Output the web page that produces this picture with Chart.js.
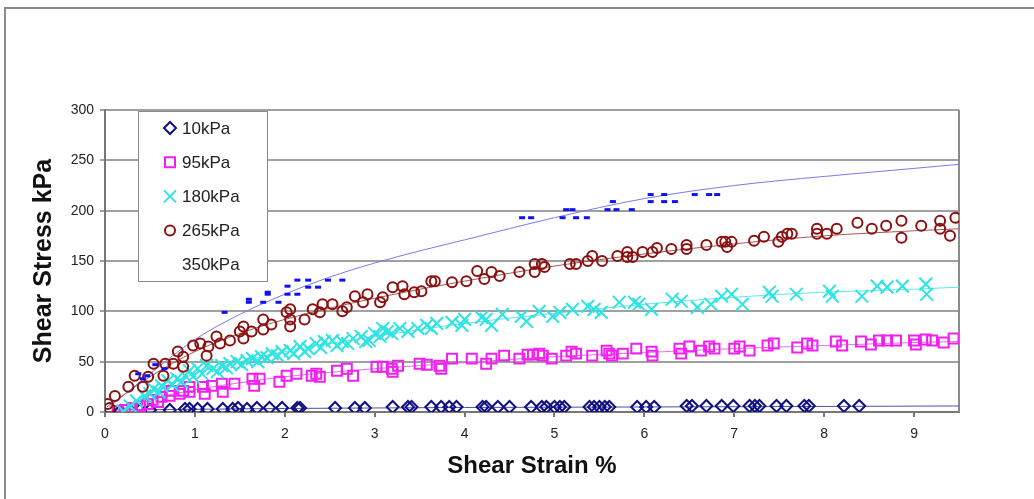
<!DOCTYPE html>
<html>
<head>
<meta charset="utf-8">
<script src="https://cdn.jsdelivr.net/npm/chart.js@4/dist/chart.umd.min.js"></script>
<style>
  body { margin: 0; background: #fff; }
  #wrap { width: 1034px; height: 499px; }
</style>
</head>
<body>
<div id="wrap"><canvas id="shearChart" width="1034" height="499"></canvas></div>
<script>
// series names
const seriesNames = ["10kPa", "95kPa", "180kPa", "265kPa", "350kPa"];

// axis ticks
const strainTicks = [0, 1, 2, 3, 4, 5, 6, 7, 8, 9];
const stressTicks = [0, 50, 100, 150, 200, 250, 300];

// measured points (shear strain %, shear stress kPa)
const strain10 = [0.17, 0.28, 0.39, 0.5, 0.72, 0.89, 0.94, 1.03, 1.14, 1.31, 1.42, 1.48, 1.58, 1.69, 1.83, 1.97, 2.14, 2.17, 2.56, 2.78, 2.89, 3.2, 3.37, 3.41, 3.63, 3.74, 3.83, 3.91, 4.2, 4.24, 4.37, 4.5, 4.74, 4.86, 4.91, 5.0, 5.06, 5.11, 5.39, 5.44, 5.5, 5.56, 5.61, 5.92, 6.02, 6.11, 6.47, 6.53, 6.69, 6.86, 6.99, 7.17, 7.23, 7.28, 7.47, 7.58, 7.78, 7.83, 8.22, 8.39];
const stress10 = [1, 1, 2, 2, 2, 3, 3, 3, 3, 3, 3, 4, 3, 4, 4, 4, 4, 4, 4, 4, 4, 5, 5, 5, 5, 5, 5, 5, 5, 5, 5, 5, 5, 5, 5, 5, 5, 5, 5, 5, 5, 5, 5, 5, 5, 5, 6, 6, 6, 6, 6, 6, 6, 6, 6, 6, 6, 6, 6, 6];

const strain95 = [0.14, 0.22, 0.3, 0.39, 0.47, 0.53, 0.59, 0.63, 0.72, 0.74, 0.83, 0.87, 0.94, 0.94, 1.09, 1.11, 1.19, 1.3, 1.31, 1.44, 1.64, 1.66, 1.72, 1.94, 2.02, 2.13, 2.3, 2.35, 2.39, 2.58, 2.69, 2.76, 3.02, 3.09, 3.19, 3.2, 3.26, 3.5, 3.58, 3.72, 3.74, 3.86, 4.08, 4.24, 4.3, 4.44, 4.61, 4.7, 4.76, 4.83, 4.87, 4.97, 5.13, 5.19, 5.24, 5.42, 5.58, 5.61, 5.64, 5.76, 5.91, 6.08, 6.09, 6.39, 6.41, 6.5, 6.63, 6.72, 6.78, 7.0, 7.06, 7.17, 7.37, 7.44, 7.7, 7.81, 7.87, 8.13, 8.2, 8.41, 8.52, 8.61, 8.7, 8.8, 9.0, 9.02, 9.13, 9.2, 9.33, 9.44];
const stress95 = [1, 2, 4, 6, 8, 12, 10, 15, 16, 21, 18, 21, 25, 20, 25, 18, 26, 28, 20, 28, 33, 26, 33, 30, 36, 38, 36, 38, 35, 41, 43, 36, 45, 45, 43, 40, 46, 48, 47, 46, 43, 53, 53, 48, 53, 56, 53, 57, 57, 58, 56, 53, 56, 60, 58, 56, 61, 58, 56, 58, 63, 60, 56, 63, 58, 65, 61, 65, 63, 63, 65, 61, 66, 68, 64, 68, 66, 70, 66, 70, 67, 71, 71, 71, 71, 67, 72, 71, 69, 73];

const strain180 = [0.2, 0.28, 0.35, 0.44, 0.5, 0.54, 0.6, 0.63, 0.7, 0.75, 0.8, 0.85, 0.89, 0.94, 0.98, 1.03, 1.08, 1.13, 1.2, 1.25, 1.3, 1.35, 1.39, 1.47, 1.52, 1.58, 1.64, 1.7, 1.74, 1.8, 1.86, 1.92, 1.97, 2.06, 2.1, 2.17, 2.22, 2.26, 2.35, 2.4, 2.44, 2.53, 2.58, 2.64, 2.7, 2.76, 2.85, 2.9, 2.94, 3.0, 3.06, 3.09, 3.14, 3.19, 3.28, 3.37, 3.48, 3.58, 3.63, 3.69, 3.86, 3.97, 4.0, 4.19, 4.24, 4.3, 4.42, 4.63, 4.69, 4.83, 4.98, 5.06, 5.2, 5.37, 5.44, 5.52, 5.72, 5.89, 5.94, 6.08, 6.31, 6.41, 6.59, 6.74, 6.86, 6.97, 7.09, 7.39, 7.42, 7.69, 8.06, 8.09, 8.42, 8.59, 8.7, 8.87, 9.13, 9.14];
const stress180 = [1, 6, 11, 16, 18, 23, 20, 26, 31, 27, 33, 30, 36, 41, 35, 43, 38, 46, 43, 40, 46, 44, 48, 50, 47, 51, 53, 50, 55, 54, 58, 56, 60, 61, 58, 65, 60, 63, 68, 64, 70, 71, 66, 70, 68, 73, 75, 70, 71, 78, 75, 83, 80, 78, 83, 80, 83, 86, 83, 88, 89, 86, 92, 94, 92, 86, 97, 95, 90, 100, 95, 99, 102, 105, 102, 99, 109, 109, 107, 102, 112, 110, 104, 107, 115, 117, 107, 119, 115, 117, 120, 115, 115, 125, 124, 125, 127, 117];

const strain265 = [0.03, 0.05, 0.11, 0.26, 0.33, 0.42, 0.48, 0.54, 0.65, 0.67, 0.76, 0.81, 0.87, 0.87, 0.98, 1.06, 1.13, 1.15, 1.24, 1.28, 1.39, 1.5, 1.54, 1.54, 1.63, 1.76, 1.76, 1.85, 2.02, 2.06, 2.06, 2.06, 2.22, 2.31, 2.39, 2.42, 2.53, 2.64, 2.69, 2.78, 2.87, 2.92, 3.06, 3.09, 3.2, 3.31, 3.33, 3.44, 3.52, 3.63, 3.67, 3.86, 4.02, 4.14, 4.22, 4.3, 4.39, 4.61, 4.78, 4.78, 4.86, 4.89, 5.17, 5.24, 5.37, 5.42, 5.53, 5.7, 5.81, 5.81, 5.87, 5.98, 6.09, 6.14, 6.3, 6.47, 6.47, 6.69, 6.86, 6.9, 6.92, 6.97, 7.22, 7.33, 7.49, 7.53, 7.59, 7.64, 7.92, 7.92, 8.03, 8.14, 8.37, 8.53, 8.69, 8.86, 8.86, 9.08, 9.29, 9.29, 9.4, 9.46];
const stress265 = [8, 4, 16, 25, 36, 25, 35, 48, 36, 48, 48, 60, 45, 55, 66, 68, 56, 65, 75, 68, 71, 80, 85, 73, 80, 92, 82, 87, 99, 92, 102, 85, 92, 102, 99, 107, 107, 100, 104, 115, 109, 117, 109, 114, 124, 125, 117, 119, 120, 130, 130, 129, 130, 140, 132, 139, 135, 139, 147, 139, 147, 144, 147, 147, 150, 155, 150, 155, 159, 154, 154, 159, 159, 163, 162, 166, 162, 166, 169, 169, 164, 169, 170, 174, 169, 174, 177, 177, 182, 177, 177, 182, 188, 182, 185, 190, 173, 185, 190, 182, 175, 193];

const strain350 = [0.37, 0.42, 0.47, 0.56, 0.66, 1.33, 1.6, 1.6, 1.76, 1.81, 1.81, 1.93, 2.03, 2.03, 2.14, 2.14, 2.26, 2.26, 2.37, 2.48, 2.64, 4.64, 4.74, 5.09, 5.13, 5.2, 5.24, 5.36, 5.59, 5.65, 5.69, 5.86, 6.07, 6.07, 6.22, 6.22, 6.34, 6.56, 6.72, 6.81];
const stress350 = [38, 33, 36, 47, 43, 99, 112, 109, 109, 119, 117, 109, 125, 117, 117, 131, 131, 124, 124, 131, 131, 193, 193, 193, 201, 201, 193, 193, 201, 209, 201, 201, 216, 209, 216, 209, 209, 216, 216, 216];

// trendlines
const trendStrain10 = [0.1, 2, 4, 6, 8, 9.5];
const trendStress10 = [2, 3.5, 4.5, 5, 5.5, 6];
const trendStrain95 = [0.15, 0.5, 1, 1.5, 2, 3, 4, 5, 6, 7, 8, 9, 9.5];
const trendStress95 = [0, 12, 22, 29, 35, 43, 49, 55, 59, 63, 66, 69, 70];
const trendStrain180 = [0.2, 0.5, 1, 1.5, 2, 3, 4, 5, 6, 7, 8, 9, 9.5];
const trendStress180 = [0, 18, 38, 50, 60, 75, 88, 98, 107, 114, 119, 122, 124];
const trendStrain265 = [0.02, 0.5, 1, 1.5, 2, 3, 4, 5, 6, 7, 8, 9, 9.5];
const trendStress265 = [5, 35, 60, 78, 92, 113, 130, 145, 157, 167, 175, 180, 182];
const trendStrain350 = [0.05, 0.5, 1, 1.5, 2, 2.5, 3, 3.5, 4, 5, 6, 7, 8, 9, 9.5];
const trendStress350 = [5, 38, 72, 97, 117, 134, 148, 160, 171, 193, 212, 225, 234, 242, 246];

const markerColors = ["#101080", "#f020f0", "#2fe3e3", "#8b1010", "#1010f0"];
const trendColors = ["#5050b0", "#e870e8", "#5ee8e8", "#a35a5a", "#7b7bea"];

function pts(xs, ys) {
    return xs.map((x, i) => ({ x: x, y: ys[i] }));
}

const scatterSets = [
    { data: pts(strain350, stress350), pointStyle: "line", pointRadius: 3, borderWidth: 3 },
    { data: pts(strain265, stress265), pointStyle: "circle", pointRadius: 5, borderWidth: 2 },
    { data: pts(strain180, stress180), pointStyle: "crossRot", pointRadius: 9, borderWidth: 2 },
    { data: pts(strain95, stress95), pointStyle: "rect", pointRadius: 7, borderWidth: 2 },
    { data: pts(strain10, stress10), pointStyle: "rectRot", pointRadius: 6, borderWidth: 2 }
];
const seriesIdx = [4, 3, 2, 1, 0];

const datasets = scatterSets.map((s, k) => ({
    label: seriesNames[seriesIdx[k]],
    data: s.data,
    showLine: false,
    pointStyle: s.pointStyle,
    pointRadius: s.pointRadius,
    pointBorderWidth: s.borderWidth,
    borderColor: markerColors[seriesIdx[k]],
    pointBorderColor: markerColors[seriesIdx[k]],
    backgroundColor: "rgba(0,0,0,0)",
    pointBackgroundColor: "rgba(0,0,0,0)"
}));

const trends = [
    pts(trendStrain10, trendStress10),
    pts(trendStrain95, trendStress95),
    pts(trendStrain180, trendStress180),
    pts(trendStrain265, trendStress265),
    pts(trendStrain350, trendStress350)
];
trends.forEach((t, i) => {
    datasets.push({
        label: seriesNames[i] + " trend",
        data: t,
        showLine: true,
        pointRadius: 0,
        borderWidth: 1,
        borderColor: trendColors[i],
        backgroundColor: trendColors[i],
        cubicInterpolationMode: "monotone"
    });
});

/*=========================================
FRAME + LEGEND
=========================================*/
function drawMarker(ctx, style, x, y, color) {
    ctx.save();
    ctx.strokeStyle = color;
    ctx.fillStyle = color;
    ctx.lineWidth = 2;
    ctx.beginPath();
    if (style === "rectRot") {
        ctx.moveTo(x, y - 6); ctx.lineTo(x + 6, y); ctx.lineTo(x, y + 6); ctx.lineTo(x - 6, y); ctx.closePath();
        ctx.stroke();
    } else if (style === "rect") {
        ctx.rect(x - 5, y - 5, 10, 10);
        ctx.stroke();
    } else if (style === "crossRot") {
        ctx.moveTo(x - 6, y - 6); ctx.lineTo(x + 6, y + 6);
        ctx.moveTo(x + 6, y - 6); ctx.lineTo(x - 6, y + 6);
        ctx.stroke();
    } else if (style === "circle") {
        ctx.arc(x, y, 5, 0, Math.PI * 2);
        ctx.stroke();
    }
    ctx.restore();
}

const framePlugin = {
    id: "frame",
    beforeDraw(chart) {
        const ctx = chart.ctx;
        ctx.save();
        ctx.fillStyle = "#fff";
        ctx.fillRect(0, 0, chart.width, chart.height);
        ctx.strokeStyle = "#8a8a8a";
        ctx.lineWidth = 2;
        ctx.strokeRect(5, 8, 1100, 600);
        ctx.restore();
    },
    beforeDatasetsDraw(chart) {
        const ctx = chart.ctx;
        const a = chart.chartArea;
        ctx.save();
        ctx.strokeStyle = "#8a8a8a";
        ctx.lineWidth = 2;
        ctx.beginPath();
        ctx.moveTo(a.right, a.top);
        ctx.lineTo(a.right, a.bottom);
        ctx.stroke();
        ctx.restore();
    },
    afterDatasetsDraw(chart) {
        const ctx = chart.ctx;
        const styles = ["rectRot", "rect", "crossRot", "circle", null];
        ctx.save();
        ctx.fillStyle = "#fff";
        ctx.fillRect(138, 111, 129, 170);
        ctx.strokeStyle = "#8a8a8a";
        ctx.lineWidth = 1;
        ctx.strokeRect(138.5, 111.5, 129, 170);
        ctx.font = "17px 'Liberation Sans', Arial, sans-serif";
        ctx.textBaseline = "middle";
        ctx.fillStyle = "#222";
        seriesNames.forEach((name, i) => {
            const y = 128 + i * 34.2;
            if (styles[i]) drawMarker(ctx, styles[i], 170, y, markerColors[i]);
            ctx.fillStyle = "#222";
            ctx.fillText(name, 182, y + 1);
        });
        ctx.restore();
    }
};

const tickFont = { family: "'Liberation Sans', Arial, sans-serif", size: 14 };

new Chart(document.getElementById("shearChart"), {
    type: "scatter",
    data: { datasets: datasets },
    options: {
        responsive: false,
        animation: false,
        devicePixelRatio: 1,
        layout: { padding: { left: 0, right: 75, top: 110, bottom: 0 } },
        plugins: {
            legend: { display: false },
            tooltip: { enabled: false }
        },
        scales: {
            x: {
                type: "linear",
                min: 0,
                max: 9.5,
                afterFit: (s) => { s.height = 87; },
                afterBuildTicks: (s) => { s.ticks = strainTicks.map(v => ({ value: v })); },
                ticks: { font: tickFont, color: "#222", padding: 9 },
                grid: { drawOnChartArea: false, drawTicks: true, tickLength: 5, color: "#777", lineWidth: 2 },
                border: { color: "#777", width: 2 },
                title: {
                    display: true,
                    text: "Shear Strain %",
                    color: "#111",
                    font: { family: "'Liberation Sans', Arial, sans-serif", size: 24, weight: "bold" },
                    padding: { top: 0, bottom: 18 }
                }
            },
            y: {
                min: 0,
                max: 300,
                afterFit: (s) => { s.width = 105; },
                afterBuildTicks: (s) => { s.ticks = stressTicks.map(v => ({ value: v })); },
                ticks: { font: tickFont, color: "#222", padding: 6 },
                grid: { color: "#a0a0a0", lineWidth: 2, tickLength: 5 },
                border: { color: "#777", width: 2 },
                title: {
                    display: true,
                    text: "Shear Stress kPa",
                    color: "#111",
                    font: { family: "'Liberation Sans', Arial, sans-serif", size: 25, weight: "bold" },
                    padding: { top: 29, bottom: 0 }
                }
            }
        }
    },
    plugins: [framePlugin]
});
</script>
</body>
</html>
